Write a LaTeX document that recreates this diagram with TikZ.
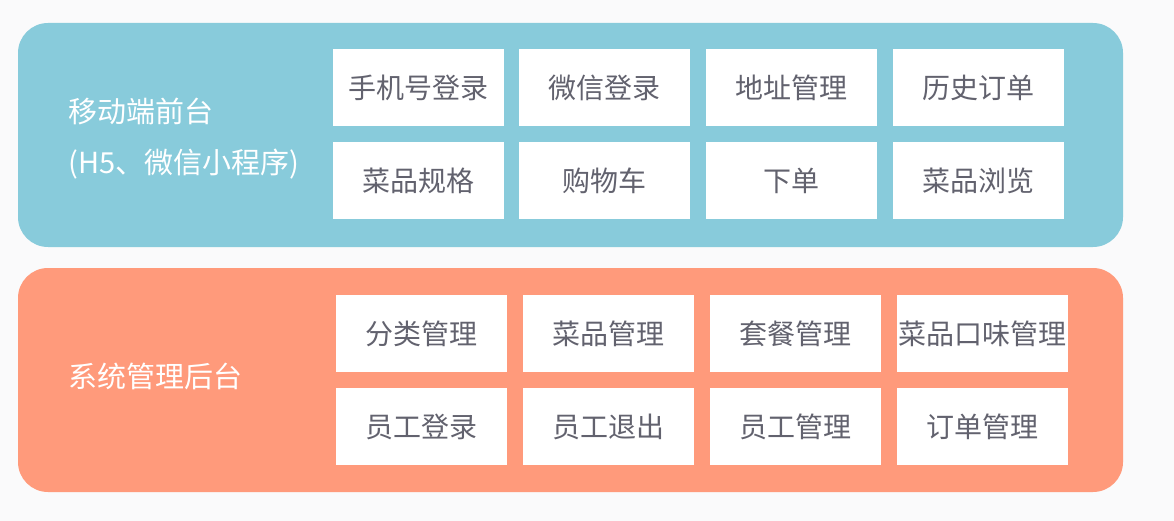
\documentclass[tikz,border=0pt]{standalone}
\usepackage{fontspec}
\setmainfont{Noto Sans CJK SC}
\usepackage{xcolor}
\usepackage{tikz}
\usetikzlibrary{positioning}
\definecolor{frontblue}{RGB}{136,203,219}
\definecolor{backorange}{RGB}{255,154,123}
\definecolor{boxtext}{RGB}{98,98,110}
\definecolor{pagegrey}{RGB}{250,250,251}
\tikzset{
  panel/.style={rounded corners=30pt,inner sep=0pt,minimum width=1105pt,
    minimum height=224pt},
  featbox/.style={fill=white,inner sep=0pt,minimum width=171pt,
    minimum height=77pt,text=boxtext,font=\fontsize{28}{30}\selectfont},
  paneltitle/.style={text=white,inner sep=0pt,anchor=west,
    font=\fontsize{29}{32}\selectfont}
}
\newcommand{\lowtxt}[1]{\raisebox{-3pt}{#1}}

\begin{document}
\begin{tikzpicture}[x=1pt,y=-1pt]
  \fill[pagegrey] (0,0) rectangle (1174,521);
  \useasboundingbox (0,0) rectangle (1174,521);
  % front end
  \node[panel,fill=frontblue] (front) at (570.5,135) {};
  \node[paneltitle] (fronttitle) at (68,111) {移动端前台};
  \node[paneltitle] (frontsub) at (68,164) {(H5、微信小程序)};
  \foreach \name/\cx/\cy/\txt in {fa/418/87.5/手机号登录, fb/604.5/87.5/微信登录,
                                  fc/791.5/87.5/地址管理, fd/978.5/87.5/历史订单,
                                  fe/418/181/菜品规格, ff/604.5/181/购物车,
                                  fg/791.5/181/下单, fh/978.5/181/菜品浏览}
    \node[featbox] (\name) at (\cx,\cy) {\lowtxt{\txt}};
  % back end
  \node[panel,fill=backorange] (back) at (570.5,380) {};
  \node[paneltitle] (backtitle) at (68,376) {系统管理后台};
  \foreach \name/\cx/\cy/\txt in {ba/421/333.5/分类管理, bb/608.5/333.5/菜品管理,
                                  bc/795/333.5/套餐管理, bd/982/333.5/菜品口味管理,
                                  be/421/426.5/员工登录, bf/608.5/426.5/员工退出,
                                  bg/795/426.5/员工管理, bh/982/426.5/订单管理}
    \node[featbox] (\name) at (\cx,\cy) {\lowtxt{\txt}};
\end{tikzpicture}
\end{document}
